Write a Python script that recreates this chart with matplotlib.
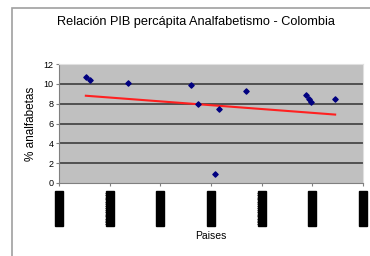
import matplotlib
matplotlib.use('Agg')
import matplotlib.pyplot as plt
from matplotlib.patches import Rectangle

# Data
pib = [0.53, 0.61, 1.37, 2.61, 2.74, 3.15, 3.08, 3.70, 4.88, 4.93, 4.98, 5.45]
analfabetas = [10.7, 10.4, 10.1, 9.85, 8.0, 7.45, 0.9, 9.25, 8.85, 8.45, 8.2, 8.5]
trend_x = [0.53, 5.45]
trend_y = [8.8, 6.9]
x_ticks = [0, 1, 2, 3, 4, 5, 6]
y_ticks = [0, 2, 4, 6, 8, 10, 12]

plt.rcParams['font.family'] = ['Liberation Sans', 'DejaVu Sans']

fig = plt.figure(figsize=(3.7, 2.56), dpi=100)
fig.patch.set_facecolor('white')

# chart area border (only top/left visible)
fig.add_artist(Rectangle((12 / 370, -0.05), 1.0, 1 - 7.5 / 256 + 0.05,
                         transform=fig.transFigure, fill=False,
                         edgecolor='#a0a0a0', linewidth=1.2))

ax = fig.add_axes([59 / 370, 1 - 183 / 256, 304 / 370, 119 / 256])
ax.set_facecolor('#c0c0c0')

for y in y_ticks[1:]:
    ax.axhline(y, color='#505050', linewidth=1.4, zorder=1)

ax.plot(trend_x, trend_y, color='#ff2020', linewidth=1.5, zorder=2)
ax.scatter(pib, analfabetas, marker='D', s=7, color='#000080', zorder=3)

ax.set_xlim(0, 6)
ax.set_ylim(0, 12)
ax.set_xticks(x_ticks)
ax.set_xticklabels(['########'] * len(x_ticks), rotation=90, fontsize=5.5,
                   color='black')
for lbl in ax.get_xticklabels():
    lbl.set_bbox(dict(facecolor='black', edgecolor='black', pad=0.3))
ax.set_yticks(y_ticks)
ax.tick_params(axis='y', labelsize=6.5, length=2, color='#808080', pad=2)
ax.tick_params(axis='x', length=2, color='#808080', pad=4)

for side in ['top', 'right']:
    ax.spines[side].set_color('#e0e0e0')
for side in ['left', 'bottom']:
    ax.spines[side].set_color('#808080')

ax.set_ylabel('% analfabetas', fontsize=8.5, labelpad=5)
ax.set_xlabel('Paises', fontsize=7.5, labelpad=4)
fig.text(196 / 370, 1 - 22 / 256,
         'Relación PIB percápita Analfabetismo - Colombia',
         ha='center', va='center', fontsize=9.2)

fig.savefig('out.png', dpi=100)
